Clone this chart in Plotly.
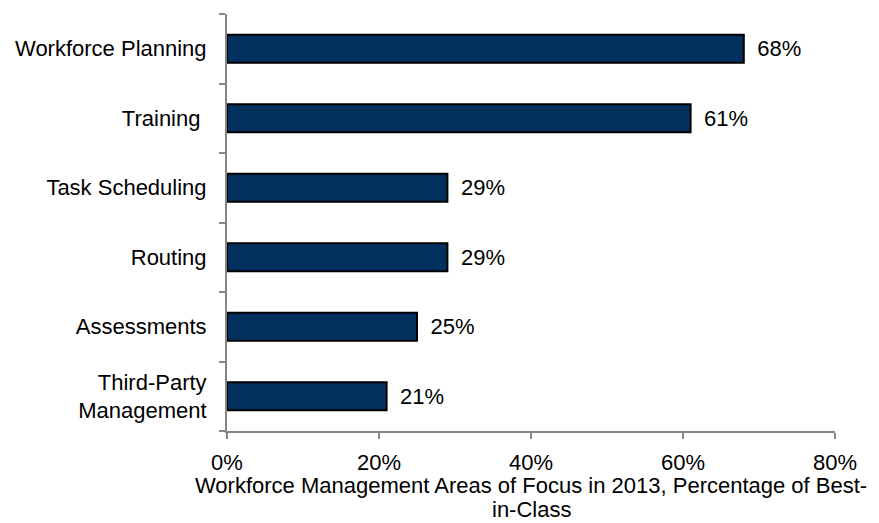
import plotly.graph_objects as go

categories = ["Workforce Planning", "Training ", "Task Scheduling", "Routing", "Assessments", "Third-Party<br>Management"]
values = [68, 61, 29, 29, 25, 21]
labels = ["68%", "61%", "29%", "29%", "25%", "21%"]
x_ticks = [0, 20, 40, 60, 80]
x_tick_labels = ["0%", "20%", "40%", "60%", "80%"]
x_title_lines = ["Workforce Management Areas of Focus in 2013, Percentage of Best-", "in-Class"]

FONT = "Liberation Sans, Arial, sans-serif"

fig = go.Figure(go.Bar(
    x=values, y=categories, orientation="h",
    marker=dict(color="#03315F", line=dict(color="#000000", width=2)),
    width=0.4,
    text=labels, texttemplate="\u00a0\u2009%{text}", textposition="outside",
    textfont=dict(family=FONT, size=22, color="#000000"),
    cliponaxis=False,
))

# two-line x-axis title with tight line spacing
for line, shift in zip(x_title_lines, [-54, -78]):
    fig.add_annotation(
        text=line, xref="paper", yref="paper", x=0.5, y=0,
        xanchor="center", yanchor="middle", yshift=shift,
        showarrow=False, font=dict(family=FONT, size=22, color="#000000"),
    )

fig.update_layout(
    width=871, height=515,
    margin=dict(l=219, r=44, t=6, b=92),
    plot_bgcolor="white", paper_bgcolor="white",
    font=dict(family=FONT, size=22, color="#000000"),
    showlegend=False,
    xaxis=dict(
        range=[0, 80], tickvals=x_ticks, ticktext=x_tick_labels,
        showgrid=False, zeroline=False,
        showline=True, linecolor="#868686", linewidth=2,
        ticks="outside", ticklen=6, tickcolor="#868686", tickwidth=2,
        ticklabelstandoff=5,
        tickfont=dict(size=22),
    ),
    yaxis=dict(
        categoryorder="array", categoryarray=categories[::-1],
        showgrid=False, zeroline=False,
        showline=True, linecolor="#868686", linewidth=2,
        ticks="outside", ticklen=6, tickcolor="#868686", tickwidth=2,
        tickson="boundaries",
        ticklabelstandoff=14,
        tickfont=dict(size=22),
        range=[-0.5, 5.5],
    ),
)

fig.write_html("out.html")
